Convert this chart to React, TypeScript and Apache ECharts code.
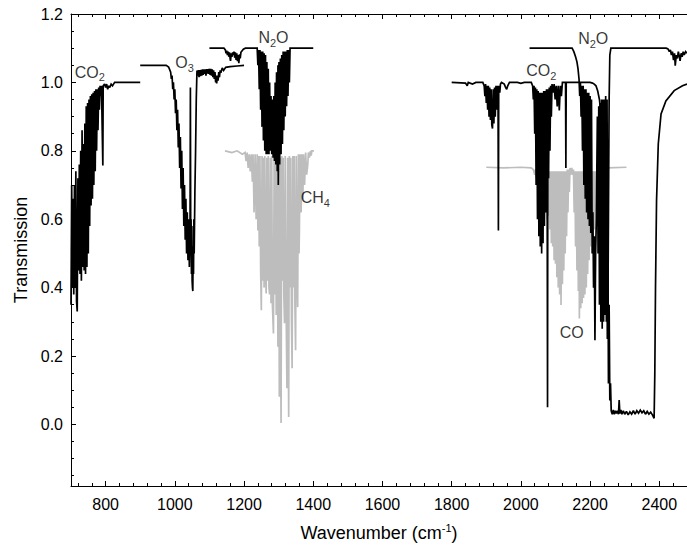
import React, { useEffect, useRef } from "react";
import * as echarts from "echarts";

type Pt = [number, number];

// CO2 bending band (black), baseline 1.0
const co2Left: Pt[] = [
  [700, 0.35], [702, 0.70], [704, 0.40], [706, 0.66], [708, 0.38], [710, 0.70], [712, 0.40], [714, 0.74],
  [716, 0.36], [718, 0.33], [720, 0.72], [722, 0.45], [724, 0.76], [726, 0.44], [728, 0.80], [730, 0.42],
  [732, 0.86], [734, 0.46], [736, 0.82], [738, 0.45], [740, 0.88], [742, 0.44], [744, 0.93], [746, 0.46],
  [748, 0.94], [750, 0.50], [752, 0.95], [754, 0.58], [756, 0.96], [758, 0.64], [760, 0.965], [762, 0.66],
  [764, 0.97], [766, 0.70], [768, 0.975], [770, 0.74], [772, 0.98], [774, 0.80], [776, 0.98], [778, 0.86],
  [780, 0.985], [782, 0.92], [784, 0.99], [786, 0.96], [788, 0.99], [790, 0.99], [792, 0.757],
  [793, 0.99], [797, 0.995], [800, 0.985], [803, 0.995], [806, 0.98], [809, 0.99], [812, 0.985], [816, 0.995],
  [820, 0.99], [826, 1.0], [900, 1.0],
];

// O3 band (black), baseline 1.05
const o3: Pt[] = [
  [900, 1.05], [975, 1.05], [982, 1.045], [986, 1.035], [988, 1.03], [990, 1.01], [992, 1.02], [994, 0.98],
  [996, 1.0], [998, 0.95], [1000, 0.98], [1002, 0.91], [1004, 0.95], [1006, 0.86], [1008, 0.92], [1010, 0.81],
  [1012, 0.88], [1014, 0.75], [1016, 0.84], [1018, 0.69], [1020, 0.80], [1022, 0.63], [1024, 0.75], [1026, 0.58],
  [1028, 0.70], [1030, 0.54], [1032, 0.66], [1034, 0.50], [1036, 0.62], [1038, 0.48], [1040, 0.60], [1042, 0.46],
  [1044, 0.56], [1045, 0.985], [1046, 0.50], [1047, 0.60], [1048, 0.44], [1049, 0.58], [1050, 0.42], [1051, 0.40],
  [1052, 0.39], [1053, 0.52], [1054, 0.44], [1055, 0.60], [1056, 0.50], [1058, 0.68], [1060, 0.80], [1062, 0.95],
  [1064, 1.035],
  [1066, 1.02], [1068, 1.036], [1070, 1.015], [1072, 1.036], [1074, 1.018], [1076, 1.037], [1078, 1.02], [1080, 1.038],
  [1082, 1.022], [1084, 1.038], [1086, 1.025], [1088, 1.038], [1090, 1.02], [1092, 1.039], [1094, 1.026], [1096, 1.039],
  [1098, 1.025], [1100, 1.04], [1102, 1.022], [1104, 1.04], [1106, 1.02], [1108, 1.038], [1110, 1.015], [1112, 1.035],
  [1114, 1.01], [1116, 1.03], [1118, 1.0], [1120, 1.02], [1121, 0.997], [1123, 1.02], [1125, 1.005], [1127, 1.03],
  [1129, 1.015], [1131, 1.035], [1133, 1.028], [1137, 1.042], [1141, 1.035], [1147, 1.044], [1160, 1.046],
  [1180, 1.048], [1200, 1.05],
];

// N2O bands near 1168 and 1285 (black), baseline 1.1
const n2oLeft: Pt[] = [
  [1100, 1.1], [1142, 1.1], [1146, 1.095], [1148, 1.085], [1150, 1.093], [1152, 1.08], [1154, 1.09], [1156, 1.075],
  [1158, 1.088], [1160, 1.068], [1161, 1.063], [1163, 1.085], [1165, 1.075], [1167, 1.088], [1169, 1.08], [1171, 1.09],
  [1173, 1.072], [1175, 1.088], [1177, 1.066], [1179, 1.085], [1181, 1.062], [1183, 1.08], [1185, 1.056], [1187, 1.082],
  [1189, 1.07], [1191, 1.088], [1194, 1.092], [1198, 1.097], [1204, 1.1], [1238, 1.1], [1240, 1.05], [1242, 1.095],
  [1244, 0.98], [1246, 1.095], [1248, 0.92], [1250, 1.09], [1252, 0.87], [1254, 1.09], [1256, 0.83], [1258, 1.085],
  [1260, 0.80], [1262, 1.08], [1264, 0.79], [1266, 1.06], [1268, 0.79], [1270, 1.04], [1272, 0.79], [1274, 1.0],
  [1276, 0.80], [1278, 0.96], [1280, 0.79], [1282, 0.95], [1284, 0.78], [1286, 0.96], [1288, 0.77], [1290, 1.0],
  [1292, 0.76], [1294, 1.03], [1296, 0.74], [1298, 1.05], [1299, 0.70], [1301, 1.06], [1303, 0.76], [1305, 1.07],
  [1307, 0.79], [1309, 1.08], [1311, 0.82], [1313, 1.09], [1315, 0.86], [1317, 1.09], [1319, 0.90], [1321, 1.09],
  [1323, 0.93], [1325, 1.095], [1327, 0.96], [1329, 1.095], [1331, 1.0], [1333, 1.1], [1400, 1.1],
];

// CH4 band (grey), baseline 0.8
const ch4: Pt[] = [
  [1145, 0.80], [1165, 0.795], [1180, 0.80], [1195, 0.79], [1203, 0.795], [1206, 0.77], [1209, 0.795], [1212, 0.75],
  [1215, 0.79], [1218, 0.74], [1221, 0.79], [1224, 0.71], [1226, 0.79], [1229, 0.62], [1232, 0.79], [1235, 0.60],
  [1238, 0.79], [1240, 0.567], [1242, 0.785], [1244, 0.52], [1246, 0.785], [1248, 0.45], [1250, 0.334], [1252, 0.785],
  [1254, 0.42], [1256, 0.78], [1258, 0.40], [1260, 0.785], [1262, 0.45], [1264, 0.383], [1266, 0.78], [1268, 0.42],
  [1270, 0.785], [1272, 0.40], [1274, 0.38], [1276, 0.78], [1278, 0.354], [1280, 0.785], [1282, 0.35], [1285, 0.266],
  [1287, 0.78], [1289, 0.38], [1291, 0.785], [1293, 0.32], [1295, 0.78], [1298, 0.227], [1300, 0.785], [1302, 0.081],
  [1304, 0.78], [1305, 0.40], [1307, 0.004], [1309, 0.785], [1311, 0.42], [1313, 0.78], [1315, 0.38], [1317, 0.296],
  [1319, 0.785], [1321, 0.40], [1324, 0.106], [1326, 0.78], [1327, 0.45], [1329, 0.022], [1331, 0.785], [1333, 0.40],
  [1335, 0.78], [1337, 0.30], [1339, 0.164], [1341, 0.785], [1343, 0.40], [1345, 0.785], [1347, 0.35], [1349, 0.217],
  [1351, 0.785], [1353, 0.45], [1355, 0.343], [1357, 0.79], [1359, 0.50], [1360, 0.567], [1362, 0.79], [1365, 0.62],
  [1367, 0.79], [1370, 0.66], [1372, 0.79], [1375, 0.70], [1378, 0.795], [1381, 0.73], [1384, 0.757], [1386, 0.795],
  [1389, 0.78], [1392, 0.80], [1394, 0.786], [1396, 0.80], [1402, 0.80],
];

// CO2 bands 1900-2480 (black), baseline 1.0
const co2Right: Pt[] = [
  [1800, 1.0], [1840, 0.998], [1845, 0.99], [1848, 1.0], [1860, 0.995], [1870, 1.0], [1890, 1.0], [1894, 0.99],
  [1896, 0.96], [1898, 0.995], [1900, 0.94], [1902, 0.99], [1904, 0.92], [1906, 0.99], [1908, 0.90], [1910, 0.985],
  [1912, 0.89], [1914, 0.98], [1916, 0.875], [1918, 0.865], [1920, 0.98], [1922, 0.88], [1924, 0.985], [1926, 0.90],
  [1928, 0.99], [1930, 0.92], [1932, 0.99], [1934, 0.95], [1935, 0.567], [1936, 0.99], [1939, 0.97], [1941, 0.995],
  [1944, 1.0], [1952, 0.995], [1956, 0.985], [1959, 0.98], [1962, 0.99], [1967, 1.0], [1990, 1.0], [2000, 0.997],
  [2010, 1.0], [2030, 1.0], [2034, 0.99], [2036, 0.95], [2038, 0.99], [2040, 0.85], [2042, 0.985], [2044, 0.70],
  [2046, 0.98], [2048, 0.60], [2050, 0.975], [2052, 0.55], [2054, 0.97], [2056, 0.52], [2058, 0.97], [2060, 0.50],
  [2062, 0.97], [2064, 0.53], [2066, 0.975], [2068, 0.58], [2070, 0.975], [2072, 0.62], [2074, 0.98], [2076, 0.66],
  [2077, 0.05], [2078, 0.98], [2080, 0.72], [2082, 0.985], [2084, 0.80], [2086, 0.99], [2088, 0.90], [2090, 0.995],
  [2093, 0.97], [2096, 0.995], [2099, 0.95], [2102, 0.99], [2105, 0.93], [2108, 0.99], [2111, 0.918], [2114, 0.99],
  [2117, 0.96], [2120, 1.0], [2129, 1.0], [2130, 0.75], [2131, 1.0], [2200, 1.0], [2207, 0.998], [2212, 0.995],
  [2217, 0.99], [2222, 0.975], [2227, 0.95], [2230, 0.92], [2233, 0.89], [2236, 0.86], [2238, 0.70], [2240, 0.84],
  [2242, 0.55], [2244, 0.81], [2246, 0.40], [2248, 0.78], [2250, 0.25], [2251, 0.655], [2253, 0.12],
  [2255, 0.35], [2257, 0.07], [2259, 0.12], [2261, 0.04], [2264, 0.03], [2267, 0.042], [2270, 0.03], [2273, 0.04],
  [2276, 0.032], [2279, 0.04], [2282, 0.03], [2284, 0.071], [2286, 0.032], [2289, 0.042], [2292, 0.03], [2296, 0.04],
  [2300, 0.03], [2305, 0.038], [2310, 0.028], [2315, 0.037], [2320, 0.03], [2325, 0.04], [2330, 0.03], [2335, 0.04],
  [2340, 0.033], [2345, 0.042], [2350, 0.034], [2355, 0.04], [2360, 0.03], [2365, 0.038], [2370, 0.03], [2375, 0.036],
  [2380, 0.028], [2385, 0.018], [2387, 0.15], [2389, 0.40], [2392, 0.655], [2397, 0.82], [2405, 0.908], [2419, 0.946],
  [2443, 0.976], [2467, 0.99], [2480, 0.995],
];

// N2O bands 2025-2480 (black), baseline 1.1
const n2oRight: Pt[] = [
  [2025, 1.1], [2148, 1.1], [2153, 1.09], [2158, 1.075], [2162, 1.06], [2165, 1.04], [2168, 1.01], [2170, 0.96],
  [2172, 1.0], [2174, 0.90], [2176, 0.99], [2178, 0.80], [2180, 0.99], [2182, 0.70], [2184, 0.98], [2186, 0.66],
  [2188, 0.98], [2190, 0.62], [2192, 0.97], [2194, 0.60], [2196, 0.97], [2198, 0.58], [2200, 0.96], [2202, 0.56],
  [2204, 0.95], [2206, 0.50], [2208, 0.62], [2210, 0.40], [2212, 0.55], [2214, 0.246], [2216, 0.50], [2218, 0.60],
  [2221, 0.90], [2223, 0.50], [2225, 0.93], [2227, 0.35], [2229, 0.94], [2231, 0.30], [2233, 0.95], [2235, 0.28],
  [2237, 0.95], [2239, 0.30], [2241, 0.95], [2243, 0.32], [2245, 0.96], [2247, 0.30], [2249, 0.95], [2251, 0.25],
  [2253, 0.60], [2255, 0.95], [2257, 1.08], [2260, 1.1], [2420, 1.1], [2425, 1.098], [2429, 1.09], [2432, 1.095],
  [2435, 1.08], [2438, 1.09], [2441, 1.065], [2444, 1.085], [2446, 1.049], [2449, 1.08], [2452, 1.07], [2455, 1.09],
  [2458, 1.075], [2460, 1.063], [2463, 1.085], [2466, 1.075], [2469, 1.09], [2472, 1.08], [2476, 1.09], [2480, 1.085],
];

// CO band (grey), baseline 0.75
const coBand: Pt[] = [
  [1900, 0.752], [1950, 0.75], [2000, 0.752], [2030, 0.75], [2036, 0.745], [2040, 0.73], [2042, 0.745], [2044, 0.72],
  [2046, 0.745], [2048, 0.71], [2050, 0.745], [2052, 0.70], [2054, 0.745], [2056, 0.69], [2058, 0.74], [2060, 0.68],
  [2062, 0.74], [2064, 0.66], [2066, 0.74], [2068, 0.65], [2070, 0.74], [2072, 0.62], [2074, 0.74], [2076, 0.60],
  [2078, 0.74], [2080, 0.61], [2082, 0.74], [2084, 0.57], [2086, 0.74], [2088, 0.53], [2090, 0.74], [2092, 0.52],
  [2094, 0.74], [2096, 0.48], [2098, 0.74], [2100, 0.47], [2102, 0.74], [2104, 0.43], [2106, 0.74], [2108, 0.40],
  [2110, 0.74], [2112, 0.38], [2114, 0.74], [2116, 0.349], [2118, 0.74], [2120, 0.41], [2122, 0.74], [2124, 0.45],
  [2126, 0.74], [2128, 0.50], [2130, 0.74], [2132, 0.55], [2134, 0.745], [2136, 0.62], [2138, 0.745], [2140, 0.68],
  [2142, 0.75], [2144, 0.73], [2147, 0.75], [2150, 0.73], [2152, 0.745], [2154, 0.62], [2156, 0.74], [2158, 0.52],
  [2160, 0.74], [2162, 0.45], [2164, 0.74], [2166, 0.39], [2168, 0.74], [2169, 0.31], [2171, 0.74], [2173, 0.34],
  [2175, 0.74], [2177, 0.354], [2179, 0.74], [2181, 0.37], [2183, 0.74], [2185, 0.38], [2187, 0.74], [2189, 0.40],
  [2191, 0.74], [2193, 0.44], [2195, 0.74], [2197, 0.48], [2199, 0.74], [2201, 0.52], [2203, 0.74], [2205, 0.55],
  [2207, 0.74], [2209, 0.567], [2211, 0.74], [2213, 0.57], [2215, 0.74], [2217, 0.70], [2220, 0.745], [2230, 0.735],
  [2240, 0.745], [2250, 0.75], [2305, 0.752],
];

// Molecule labels: rich-text markup and their anchor (wavenumber, transmission)
const labelTexts: string[] = ["{m|CO}{s|2}", "{m|O}{s|3}", "{m|N}{s|2}{m|O}", "{m|CH}{s|4}", "{m|CO}{s|2}", "{m|N}{s|2}{m|O}", "{m|CO}"];
const labelX: number[] = [754, 1028, 1285, 1406, 2059, 2209, 2147];
const labelY: number[] = [1.029, 1.058, 1.131, 0.663, 1.034, 1.128, 0.268];

const FONT = "'Liberation Sans', Arial, Helvetica, sans-serif";

export default function App() {
  const ref = useRef<HTMLDivElement>(null);
  useEffect(() => {
    if (!ref.current) return;
    const chart = echarts.init(ref.current, null, { renderer: "svg" });

    const lineSeries = (data: Pt[], color: string, width: number, z: number) => ({
      type: "line",
      data,
      showSymbol: false,
      symbol: "none",
      silent: true,
      z,
      lineStyle: { color, width, join: "miter", miterLimit: 2 },
      itemStyle: { color },
    });

    const xAxisBase = {
      type: "value",
      min: 700,
      max: 2480,
      splitNumber: 9,
      axisLine: { onZero: false, lineStyle: { color: "#000", width: 1 } },
      axisTick: { inside: true, length: 5, lineStyle: { color: "#000" } },
      minorTick: { show: true, splitNumber: 5, length: 3, lineStyle: { color: "#000" } },
      splitLine: { show: false },
      minorSplitLine: { show: false },
    };

    chart.setOption({
      animation: false,
      backgroundColor: "#fff",
      grid: { left: 71, right: 0, top: 14, bottom: 60, outerBoundsMode: "none", containLabel: false },
      xAxis: [
        {
          ...xAxisBase,
          position: "bottom",
          name: "{a|Wavenumber (cm}{p|-1}{a|)}",
          nameLocation: "middle",
          nameGap: 36,
          nameTextStyle: {
            rich: {
              a: { fontSize: 18, fontFamily: FONT, color: "#000" },
              p: { fontSize: 11, fontFamily: FONT, color: "#000", padding: [0, 0, 10, 0] },
            },
          },
          axisLabel: {
            margin: 10,
            fontSize: 16,
            fontFamily: FONT,
            color: "#000",
            formatter: (v: number) => (Math.abs(v % 200) < 1e-6 ? String(v) : ""),
          },
        },
        {
          ...xAxisBase,
          position: "top",
          axisLabel: { show: false },
        },
      ],
      yAxis: {
        type: "value",
        min: -0.18,
        max: 1.2,
        splitNumber: 7,
        name: "Transmission",
        nameLocation: "middle",
        nameGap: 37,
        nameTextStyle: { fontSize: 18, fontFamily: FONT, color: "#000" },
        axisLine: { show: true, onZero: false, lineStyle: { color: "#000", width: 1 } },
        axisTick: { inside: true, length: 5, lineStyle: { color: "#000" } },
        minorTick: { show: true, splitNumber: 4, length: 3, lineStyle: { color: "#000" } },
        splitLine: { show: false },
        axisLabel: {
          margin: 8,
          fontSize: 16,
          fontFamily: FONT,
          color: "#000",
          formatter: (v: number) => {
            const r = Math.round(v / 0.2);
            return Math.abs(v - r * 0.2) < 1e-6 ? (r * 0.2).toFixed(1) : "";
          },
        },
      },
      series: [
        lineSeries(ch4, "#bdbdbd", 1.7, 2),
        lineSeries(coBand, "#bdbdbd", 1.7, 2),
        lineSeries(co2Left, "#000", 1.7, 3),
        lineSeries(o3, "#000", 1.7, 3),
        lineSeries(n2oLeft, "#000", 1.7, 3),
        lineSeries(co2Right, "#000", 1.7, 3),
        lineSeries(n2oRight, "#000", 1.7, 3),
        {
          type: "scatter",
          silent: true,
          symbolSize: 1,
          z: 5,
          itemStyle: { color: "rgba(0,0,0,0)" },
          data: labelTexts.map((t, i) => ({
            value: [labelX[i], labelY[i]],
            label: { formatter: t },
          })),
          label: {
            show: true,
            position: "inside",
            color: "#000",
            rich: {
              m: { fontSize: 16, fontFamily: FONT, color: "#000" },
              s: { fontSize: 11, fontFamily: FONT, color: "#000", padding: [10, 0, 0, 0] },
            },
          },
        },
      ],
    });
    return () => chart.dispose();
  }, []);
  return (
    <div
      ref={ref}
      style={{ position: "fixed", left: 0, top: 0, width: 687, height: 546, background: "#fff" }}
    />
  );
}
